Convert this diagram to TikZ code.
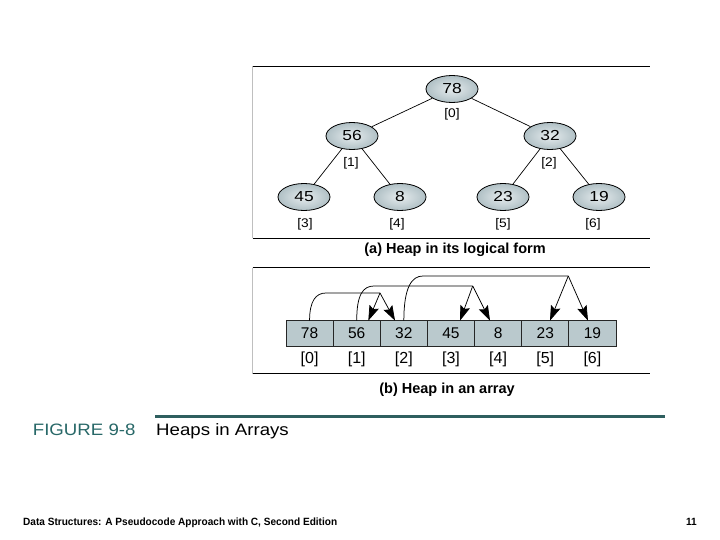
\documentclass[tikz,border=0pt]{standalone}
\usepackage{fontspec}
\setmainfont{Liberation Sans}
\newfontfamily\treefont[FakeStretch=1.2]{Liberation Sans}
\newfontfamily\idxfont[FakeStretch=1.1]{Liberation Sans}
\newfontfamily\titlefont[FakeStretch=1.13]{Liberation Sans}
\newfontfamily\footfont[FakeStretch=0.96]{Liberation Sans}
\usetikzlibrary{arrows.meta,calc,shapes.geometric}
\definecolor{cellfill}{RGB}{186,201,205}
\definecolor{nodeout}{RGB}{176,192,197}
\definecolor{nodein}{RGB}{230,236,238}
\definecolor{tealtext}{RGB}{40,104,104}
\definecolor{tealline}{RGB}{47,95,95}
\begin{document}
\begin{tikzpicture}[x=1pt,y=-1pt,
  heapnode/.style={ellipse, draw=black, line width=0.8pt, inner color=nodein, outer color=nodeout,
    minimum width=52pt, minimum height=27pt, inner sep=0pt,
    font=\treefont\fontsize{14.5}{14.5}\selectfont},
  treeidx/.style={inner sep=0pt, font=\idxfont\fontsize{12.5}{12.5}\selectfont},
  treeedge/.style={line width=0.7pt},
  cellbox/.style={draw=black!85, fill=cellfill, line width=0.8pt, minimum width=47.14pt,
    minimum height=25.3pt, inner sep=0pt, outer sep=0pt, font=\fontsize{15.5}{15.5}\selectfont},
  cellidx/.style={inner sep=0pt, font=\fontsize{16}{16}\selectfont},
  frameline/.style={line width=0.9pt, black},
  sideline/.style={line width=0.8pt, black!25},
  caption/.style={inner sep=0pt, font=\bfseries\fontsize{14.5}{14.5}\selectfont},
  linkline/.style={line width=0.75pt},
  linkarrow/.style={line width=0.75pt, -{Stealth[length=15pt,width=10pt,inset=2.5pt]}}
]
\useasboundingbox (0,0) rectangle (720,540);
\fill[white] (0,0) rectangle (720,540);

% ---------- panel (a) ----------
\coordinate (atl) at (252.5,66.5);
\coordinate (atr) at (650,66.5);
\coordinate (abl) at (252.5,238.3);
\coordinate (abr) at (650,238.3);
\draw[sideline] (atl) -- (abl);
\draw[frameline] (atl) -- (atr);
\draw[frameline] (abl) -- (abr);

\node[heapnode] (n0) at (452,89) {78};
\node[heapnode] (n1) at (352,136) {56};
\node[heapnode] (n2) at (550,136) {32};
\node[heapnode] (n3) at (304,197) {45};
\node[heapnode] (n4) at (400,197) {8};
\node[heapnode] (n5) at (503,197) {23};
\node[heapnode] (n6) at (599,197) {19};

\draw[treeedge] (n0) -- (n1);
\draw[treeedge] (n0) -- (n2);
\draw[treeedge] (n1) -- (n3);
\draw[treeedge] (n1) -- (n4);
\draw[treeedge] (n2) -- (n5);
\draw[treeedge] (n2) -- (n6);

\node[treeidx] (i0) at (452,114) {[0]};
\node[treeidx] (i1) at (351,163) {[1]};
\node[treeidx] (i2) at (549,163) {[2]};
\node[treeidx] (i3) at (305,224) {[3]};
\node[treeidx] (i4) at (397,224) {[4]};
\node[treeidx] (i5) at (503,224) {[5]};
\node[treeidx] (i6) at (593,224) {[6]};

\node[caption, anchor=base] (capa) at (455,253.3) {(a) Heap in its logical form};

% ---------- panel (b) ----------
\coordinate (btl) at (252.5,267.5);
\coordinate (btr) at (650,267.5);
\coordinate (bbl) at (252.5,373.5);
\coordinate (bbr) at (650,373.5);
\draw[sideline] (btl) -- (bbl);
\draw[frameline] (btl) -- (btr);
\draw[frameline] (bbl) -- (bbr);

\foreach \v [count=\i from 0] in {78,56,32,45,8,23,19} {
  \node[cellbox] (c\i) at ({286+47.14*(\i+0.5)},333.3) {\v};
  \node[cellidx] (k\i) at ({286+47.14*(\i+0.5)},359) {[\i]};
}

\coordinate (a1) at (380,293);
\coordinate (a2) at (472.7,286);
\coordinate (a3) at (568.3,276);
\coordinate (h1) at (326,293);
\coordinate (h2) at (374,286);
\coordinate (h3) at (423,276);
\coordinate (t1) at ($(c1.north)+(11.6,0)$);
\coordinate (t2) at ($(c2.north)+(-8.8,0)$);
\coordinate (t3) at ($(c3.north)+(9,0)$);
\coordinate (t4) at ($(c4.north)+(-8.1,0)$);
\coordinate (t5) at ($(c5.north)+(4.7,0)$);
\coordinate (t6) at ($(c6.north)+(-4.4,0)$);

\draw[linkline] (c0.north) .. controls +(0,-20) and +(-10,0) .. (h1) -- (a1);
\draw[linkline] (c1.north) .. controls +(0,-26) and +(-11,0) .. (h2) -- (a2);
\draw[linkline] (c2.north) .. controls +(0,-34) and +(-11,0) .. (h3) -- (a3);
\draw[linkarrow] (a1) -- (t1);
\draw[linkarrow] (a1) -- (t2);
\draw[linkarrow] (a2) -- (t3);
\draw[linkarrow] (a2) -- (t4);
\draw[linkarrow] (a3) -- (t5);
\draw[linkarrow] (a3) -- (t6);

\node[caption, anchor=base] (capb) at (447,393.3) {(b) Heap in an array};

% ---------- figure title ----------
\coordinate (tl1) at (155,416.5);
\coordinate (tl2) at (665,416.5);
\draw[tealline, line width=2.6pt] (tl1) -- (tl2);
\node[anchor=base west, inner sep=0pt, text=tealtext, font=\titlefont\fontsize{16.5}{16.5}\selectfont] (fig) at (32.7,435) {FIGURE 9-8};
\node[anchor=base west, inner sep=0pt, font=\titlefont\fontsize{16.5}{16.5}\selectfont] (figt) at (156,435) {Heaps in Arrays};

% ---------- footer ----------
\node[anchor=base west, inner sep=0pt, font=\footfont\bfseries\fontsize{10.5}{10.5}\selectfont] (foot) at (23,525) {Data Structures: A Pseudocode Approach with C, Second Edition};
\node[anchor=base east, inner sep=0pt, font=\footfont\bfseries\fontsize{10.5}{10.5}\selectfont] (page) at (697,525) {11};
\end{tikzpicture}
\end{document}
